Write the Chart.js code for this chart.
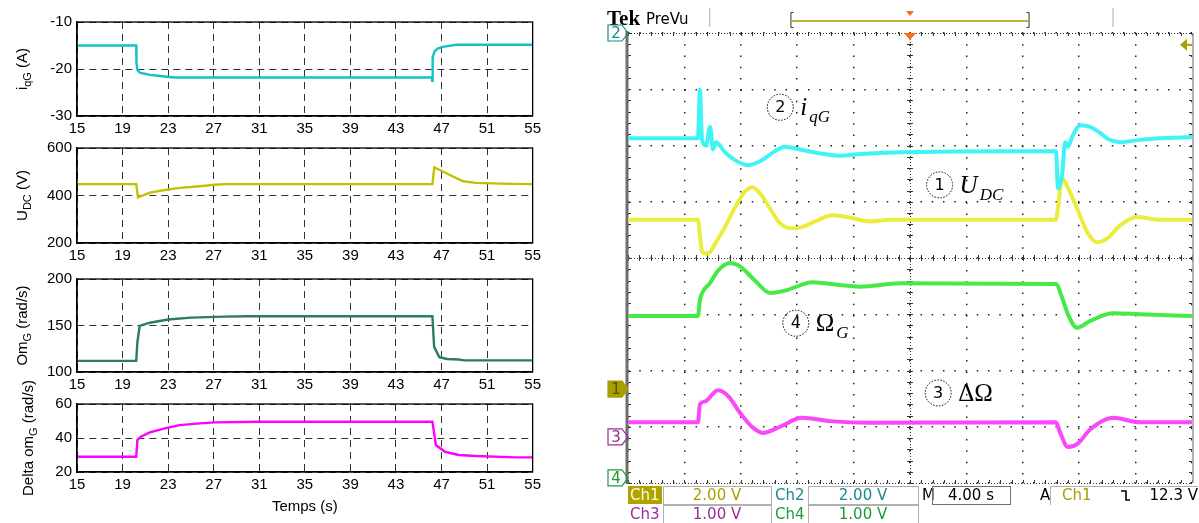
<!DOCTYPE html>
<html>
<head>
<meta charset="utf-8">
<script src="https://cdn.jsdelivr.net/npm/chart.js@4.4.0/dist/chart.umd.min.js"></script>
<style>
  html, body { margin: 0; padding: 0; background: #fff; }
  body { width: 1199px; height: 523px; position: relative; overflow: hidden; }
  canvas { position: absolute; }
</style>
</head>
<body>
<canvas id="simIqg" width="545" height="138" style="left:0;top:8px"></canvas>
<canvas id="simUdc" width="545" height="139" style="left:0;top:134px"></canvas>
<canvas id="simOmg" width="545" height="137" style="left:0;top:265px"></canvas>
<canvas id="simDom" width="545" height="166" style="left:0;top:354px"></canvas>
<canvas id="scope" width="599" height="523" style="left:600px;top:0"></canvas>
<script>
// ---- Simulation (gauche) : temps en s ----
const timeTicks = [15, 19, 23, 27, 31, 35, 39, 43, 47, 51, 55];

const iqgTime   = [15, 20.2, 20.22, 20.3, 20.5, 21.4, 22.3, 23.6, 46.15, 46.18, 46.22, 46.4, 46.7, 47.1, 48.3, 55];
const iqgValues = [-15, -15, -18.7, -20.1, -20.8, -21.25, -21.5, -21.8, -21.8, -22.5, -17.5, -16.2, -15.6, -15.3, -14.85, -14.85];
const iqgTicks  = [-30, -20, -10];

const udcTime   = [15, 20.2, 20.35, 21.4, 22.7, 24, 25.8, 27.1, 28, 46.2, 46.37, 47.1, 48.0, 48.9, 50, 51.5, 53.1, 55];
const udcValues = [448, 448, 392, 412, 423, 432, 439, 445, 448, 448, 519, 501, 480, 460, 453, 451, 449, 448];
const udcTicks  = [200, 400, 600];

const omgTime   = [15, 20.2, 20.3, 20.5, 21.4, 23, 25, 28, 30, 46.2, 46.35, 46.8, 47.5, 48.5, 49, 55];
const omgValues = [112, 112, 132, 149.5, 153, 156.5, 158.5, 159.5, 160, 160, 127, 116, 114, 113.5, 112.5, 112.5];
const omgTicks  = [100, 150, 200];

const domTime   = [15, 20.2, 20.3, 20.6, 21.4, 22.7, 24, 25.8, 27.1, 31, 46.2, 46.5, 47.3, 48.5, 50, 53.5, 55];
const domValues = [29, 29, 38.8, 40.8, 43.3, 45.7, 47.6, 48.6, 49.2, 49.6, 49.6, 35.9, 31.9, 30, 29.4, 28.6, 28.6];
const domTicks  = [20, 40, 60];

// ---- Oscilloscope (droite) : temps en s depuis le bord gauche, niveaux en divisions ----
const ch1Time = [0, 4.96, 5.1, 5.25, 5.53, 5.82, 6.17, 6.88, 7.59, 8.3, 8.8, 9.36, 10.07, 10.78, 11.49, 12.2, 13.26, 14.5, 15.7, 17.2, 18.6, 30.35, 30.5, 30.78, 31.2, 31.9, 32.6, 33.26, 34.0, 34.9, 36.1, 37.7, 40];
const ch1Div  = [0.68, 0.68, 0.4, 0.12, 0.08, 0.1, 0.25, 0.55, 0.9, 1.18, 1.26, 1.15, 0.88, 0.62, 0.53, 0.54, 0.65, 0.76, 0.72, 0.65, 0.68, 0.68, 0.9, 1.42, 1.25, 0.85, 0.45, 0.28, 0.35, 0.58, 0.73, 0.68, 0.68];

const ch2Time = [0, 4.96, 5.1, 5.25, 5.53, 5.82, 6.03, 6.24, 6.88, 7.59, 8.51, 9.36, 10.43, 11.13, 12.2, 13.6, 15.0, 16.5, 19.3, 26.4, 30.35, 30.5, 30.8, 31.0, 31.2, 31.5, 32.06, 32.77, 33.5, 34.0, 34.9, 36.3, 37.7, 40];
const ch2Div  = [2.13, 2.13, 2.99, 2.1, 2.0, 2.33, 1.93, 2.06, 1.88, 1.74, 1.65, 1.72, 1.9, 1.98, 1.93, 1.86, 1.82, 1.85, 1.88, 1.9, 1.9, 1.24, 1.5, 2.06, 1.98, 2.15, 2.36, 2.33, 2.22, 2.12, 2.06, 2.1, 2.13, 2.15];

const ch3Time = [0, 4.96, 5.1, 5.46, 6.38, 7.09, 7.94, 8.79, 9.57, 10.78, 12.34, 14.3, 17.2, 30.35, 30.64, 31.2, 31.9, 32.77, 34.4, 36.3, 40];
const ch3Div  = [-2.92, -2.92, -2.6, -2.55, -2.35, -2.45, -2.75, -3.0, -3.11, -3.0, -2.84, -2.9, -2.93, -2.92, -3.1, -3.36, -3.3, -3.05, -2.84, -2.92, -2.92];

const ch4Time = [0, 4.96, 5.1, 5.3, 5.8, 6.4, 7.23, 7.94, 9.0, 10.07, 11.13, 13.1, 15.0, 16.45, 19.3, 30.35, 30.78, 31.2, 31.84, 32.77, 34.4, 36.3, 40];
const ch4Div  = [-1.03, -1.03, -0.75, -0.6, -0.45, -0.22, -0.09, -0.15, -0.4, -0.62, -0.58, -0.43, -0.48, -0.51, -0.45, -0.46, -0.7, -1.0, -1.24, -1.12, -0.98, -1.0, -1.03];

const channelGround = [-2.33, 4.0, -3.18, -3.91];       // Ch1..Ch4
const channelVolts  = ['2.00 V', '2.00 V', '1.00 V', '1.00 V'];
const timebase      = '4.00 s';
const triggerLevel  = '12.3 V';
const triggerMark   = 3.79;

const toXY = (ts, vs) => ts.map((t, i) => ({ x: t, y: vs[i] }));

// Label d'axe Y avec indice (style MATLAB)
function drawSubLabel(ctx, parts, xBase, yCenter) {
  const big = '15px "Liberation Sans", Arial, sans-serif';
  const small = '11px "Liberation Sans", Arial, sans-serif';
  let total = 0;
  parts.forEach(p => { ctx.font = p.sub ? small : big; total += ctx.measureText(p.t).width; });
  ctx.save();
  ctx.translate(xBase, yCenter);
  ctx.rotate(-Math.PI / 2);
  ctx.fillStyle = '#000';
  ctx.textBaseline = 'alphabetic';
  let cx = -total / 2;
  parts.forEach(p => {
    ctx.font = p.sub ? small : big;
    ctx.fillText(p.t, cx, p.sub ? 4 : 0);
    cx += ctx.measureText(p.t).width;
  });
  ctx.restore();
}

function makeSimChart(id, ts, vs, color, yTicks, yParts, labelX, padTop, xHeight, withTitle) {
  const frame = {
    id: 'frame',
    afterDraw(chart) {
      const { ctx, chartArea: a } = chart;
      ctx.save();
      ctx.strokeStyle = '#000';
      ctx.lineWidth = 1.3;
      ctx.strokeRect(a.left, a.top, a.right - a.left, a.bottom - a.top);
      ctx.restore();
      drawSubLabel(ctx, yParts, labelX, (a.top + a.bottom) / 2);
    }
  };
  return new Chart(document.getElementById(id), {
    type: 'line',
    data: {
      datasets: [{
        data: toXY(ts, vs),
        borderColor: color,
        borderWidth: 2.4,
        pointRadius: 0,
        tension: 0
      }]
    },
    options: {
      responsive: false,
      animation: false,
      layout: { padding: { top: padTop, right: 12, left: 0, bottom: 0 } },
      plugins: { legend: { display: false }, tooltip: { enabled: false } },
      scales: {
        x: {
          type: 'linear', min: 15, max: 55,
          afterBuildTicks: s => { s.ticks = timeTicks.map(v => ({ value: v })); },
          afterFit: s => { s.height = xHeight; },
          ticks: { color: '#000', padding: 4, maxRotation: 0, autoSkip: false,
                   font: { family: '"Liberation Sans", Arial, sans-serif', size: 15 } },
          grid: { color: '#333', lineWidth: 1, drawTicks: false },
          border: { color: '#000', width: 1.3, dash: [7, 5] },
          title: { display: withTitle, text: 'Temps (s)', color: '#000',
                   font: { family: '"Liberation Sans", Arial, sans-serif', size: 15 } }
        },
        y: {
          min: yTicks[0], max: yTicks[yTicks.length - 1],
          afterBuildTicks: s => { s.ticks = yTicks.map(v => ({ value: v })); },
          afterFit: s => { s.width = 77; },
          ticks: { color: '#000', padding: 5,
                   font: { family: '"Liberation Sans", Arial, sans-serif', size: 15 } },
          grid: { color: '#333', lineWidth: 1, drawTicks: false },
          border: { color: '#000', width: 1.3, dash: [7, 5] }
        }
      }
    },
    plugins: [frame]
  });
}

makeSimChart('simIqg', iqgTime, iqgValues, '#12c2c6', iqgTicks,
  [{ t: 'i' }, { t: 'qG', sub: true }, { t: ' (A)' }], 27, 12, 30, false);
makeSimChart('simUdc', udcTime, udcValues, '#c2c000', udcTicks,
  [{ t: 'U' }, { t: 'DC', sub: true }, { t: ' (V)' }], 27, 12, 30, false);
makeSimChart('simOmg', omgTime, omgValues, '#2b7d5c', omgTicks,
  [{ t: 'Om' }, { t: 'G', sub: true }, { t: ' (rad/s)' }], 27, 12, 30, false);
makeSimChart('simDom', domTime, domValues, '#ff00ff', domTicks,
  [{ t: 'Delta om' }, { t: 'G', sub: true }, { t: ' (rad/s)' }], 33, 50, 48, true);

// ---- Décor de l'oscilloscope ----
const SANS = '"DejaVu Sans", sans-serif';
const SERIF = '"Liberation Serif", "DejaVu Serif", serif';

function chanMarker(ctx, xr, yc, label, color, filled) {
  ctx.save();
  ctx.beginPath();
  ctx.moveTo(xr - 20, yc - 8);
  ctx.lineTo(xr - 6, yc - 8);
  ctx.lineTo(xr, yc);
  ctx.lineTo(xr - 6, yc + 8);
  ctx.lineTo(xr - 20, yc + 8);
  ctx.closePath();
  if (filled) { ctx.fillStyle = color; ctx.fill(); }
  ctx.strokeStyle = color; ctx.lineWidth = 1.2; ctx.stroke();
  ctx.fillStyle = filled ? '#5a5200' : color;
  ctx.font = '15px ' + SANS;
  ctx.textAlign = 'center'; ctx.textBaseline = 'middle';
  ctx.fillText(label, xr - 12, yc + 1);
  ctx.restore();
}

function note(ctx, px, py, num, main, sub) {
  ctx.save();
  ctx.setLineDash([1.5, 1.5]);
  ctx.strokeStyle = '#000'; ctx.lineWidth = 1;
  ctx.beginPath(); ctx.arc(px, py, 13, 0, Math.PI * 2); ctx.stroke();
  ctx.setLineDash([]);
  ctx.fillStyle = '#000';
  ctx.font = '16px ' + SANS; ctx.textAlign = 'center'; ctx.textBaseline = 'middle';
  ctx.fillText(num, px, py + 1);
  ctx.textAlign = 'left'; ctx.textBaseline = 'alphabetic';
  let x = px + 20;
  main.forEach(m => {
    ctx.font = (m.it ? 'italic ' : '') + '25px ' + SERIF;
    ctx.fillText(m.t, x, py + 8);
    x += ctx.measureText(m.t).width + 2;
  });
  if (sub) {
    ctx.font = 'italic 17px ' + SERIF;
    ctx.fillText(sub, x, py + 15);
  }
  ctx.restore();
}

function readout(ctx, x, y, w, h, text, color, opts = {}) {
  ctx.save();
  if (opts.fill) { ctx.fillStyle = opts.fill; ctx.fillRect(x, y, w, h); }
  if (opts.stroke) { ctx.strokeStyle = opts.stroke; ctx.lineWidth = 1; ctx.strokeRect(x + 0.5, y + 0.5, w, h); }
  ctx.fillStyle = color;
  ctx.font = '15px ' + SANS;
  ctx.textBaseline = 'middle';
  ctx.textAlign = opts.align || 'center';
  const tx = opts.align === 'left' ? x + 2 : opts.align === 'right' ? x + w - 2 : x + w / 2;
  ctx.fillText(text, tx, y + h / 2 + 1);
  ctx.restore();
}

const scopeDecor = {
  id: 'scopeDecor',
  beforeDatasetsDraw(chart) {
    const { ctx, chartArea: a, scales: { x, y } } = chart;
    const xc = x.getPixelForValue(20), yc = y.getPixelForValue(0);
    ctx.save();
    ctx.strokeStyle = '#333'; ctx.lineWidth = 1;
    // lignes centrales (pointillé serré) et graduations secondaires
    ctx.setLineDash([1, 2]);
    ctx.beginPath();
    ctx.moveTo(Math.round(xc) + 0.5, a.top); ctx.lineTo(Math.round(xc) + 0.5, a.bottom);
    ctx.moveTo(a.left, Math.round(yc) + 0.5); ctx.lineTo(a.right, Math.round(yc) + 0.5);
    ctx.moveTo(a.left, Math.round(a.top) + 0.5); ctx.lineTo(a.right, Math.round(a.top) + 0.5);
    ctx.moveTo(a.left, Math.round(a.bottom) + 0.5); ctx.lineTo(a.right, Math.round(a.bottom) + 0.5);
    ctx.stroke();
    ctx.setLineDash([]);
    ctx.beginPath();
    for (let k = 0; k <= 50; k++) {
      const px = Math.round(x.getPixelForValue(k * 0.8)) + 0.5;
      ctx.moveTo(px, yc - 3); ctx.lineTo(px, yc + 3);
      ctx.moveTo(px, a.top); ctx.lineTo(px, a.top + 3);
      ctx.moveTo(px, a.bottom); ctx.lineTo(px, a.bottom - 3);
    }
    for (let k = 0; k <= 40; k++) {
      const py = Math.round(y.getPixelForValue(-4 + k * 0.2)) + 0.5;
      ctx.moveTo(xc - 3, py); ctx.lineTo(xc + 3, py);
      ctx.moveTo(a.left, py); ctx.lineTo(a.left + 3, py);
      ctx.moveTo(a.right, py); ctx.lineTo(a.right - 3, py);
    }
    ctx.stroke();
    // cadre
    ctx.strokeStyle = '#6f6f6f'; ctx.lineWidth = 3;
    ctx.beginPath(); ctx.moveTo(a.left - 1, a.top - 2); ctx.lineTo(a.left - 1, a.bottom + 1); ctx.stroke();
    ctx.strokeStyle = '#9a9a9a'; ctx.lineWidth = 1.5;
    ctx.beginPath(); ctx.moveTo(a.right + 1, a.top); ctx.lineTo(a.right + 1, a.bottom); ctx.stroke();
    ctx.restore();
  },
  afterDraw(chart) {
    const { ctx, chartArea: a, scales: { x, y } } = chart;
    const W = a.right - a.left;
    ctx.save();
    // barre du haut
    ctx.fillStyle = '#000';
    ctx.font = 'bold 21px ' + SERIF;
    ctx.textBaseline = 'alphabetic';
    ctx.fillText('Tek', 7, 25);
    ctx.font = '15px ' + SANS;
    ctx.fillText('PreVu', 46, 24);
    ctx.strokeStyle = '#aaa'; ctx.lineWidth = 1;
    ctx.beginPath();
    ctx.moveTo(a.left + 0.145 * W, 8); ctx.lineTo(a.left + 0.145 * W, 27);
    ctx.moveTo(a.left + 0.86 * W, 8); ctx.lineTo(a.left + 0.86 * W, 27);
    ctx.stroke();
    const bl = a.left + 0.288 * W, br = a.left + 0.712 * W;
    ctx.strokeStyle = '#333'; ctx.lineWidth = 1;
    ctx.beginPath();
    ctx.moveTo(bl + 3, 12.5); ctx.lineTo(bl + 0.5, 12.5); ctx.lineTo(bl + 0.5, 27.5); ctx.lineTo(bl + 3, 27.5);
    ctx.moveTo(br - 3, 12.5); ctx.lineTo(br - 0.5, 12.5); ctx.lineTo(br - 0.5, 27.5); ctx.lineTo(br - 3, 27.5);
    ctx.stroke();
    ctx.strokeStyle = '#a49c00'; ctx.lineWidth = 1.5;
    ctx.beginPath(); ctx.moveTo(bl + 1, 21); ctx.lineTo(br - 1, 21); ctx.stroke();
    const tx = x.getPixelForValue(20);
    ctx.fillStyle = '#ff6a10';
    ctx.beginPath(); ctx.moveTo(tx - 4, 11); ctx.lineTo(tx + 4, 11); ctx.lineTo(tx, 16); ctx.closePath(); ctx.fill();
    ctx.beginPath(); ctx.moveTo(tx - 6, a.top); ctx.lineTo(tx + 6, a.top); ctx.lineTo(tx, a.top + 7); ctx.closePath(); ctx.fill();

    // repères des voies
    chanMarker(ctx, a.left, y.getPixelForValue(channelGround[1]), '2', '#178a8a', false);
    chanMarker(ctx, a.left, y.getPixelForValue(channelGround[0]), '1', '#a89e00', true);
    chanMarker(ctx, a.left, y.getPixelForValue(channelGround[2]), '3', '#9a2c9a', false);
    chanMarker(ctx, a.left, y.getPixelForValue(channelGround[3]), '4', '#1f9a3a', false);
    // niveau de déclenchement
    const ty = y.getPixelForValue(triggerMark);
    ctx.fillStyle = '#a89e00'; ctx.strokeStyle = '#a89e00'; ctx.lineWidth = 2;
    ctx.beginPath(); ctx.moveTo(a.right - 12, ty); ctx.lineTo(a.right - 5, ty - 6); ctx.lineTo(a.right - 5, ty + 6); ctx.closePath(); ctx.fill();
    ctx.beginPath(); ctx.moveTo(a.right - 5, ty); ctx.lineTo(a.right, ty); ctx.stroke();

    // annotations
    note(ctx, x.getPixelForValue(10.8), y.getPixelForValue(2.68), '2', [{ t: 'i', it: true }], 'qG');
    note(ctx, x.getPixelForValue(22.1), y.getPixelForValue(1.30), '1', [{ t: 'U', it: true }], 'DC');
    note(ctx, x.getPixelForValue(11.9), y.getPixelForValue(-1.16), '4', [{ t: 'Ω' }], 'G');
    note(ctx, x.getPixelForValue(22.0), y.getPixelForValue(-2.40), '3', [{ t: 'ΔΩ' }], null);

    // lecture des calibres
    const r1 = a.bottom + 3, r2 = a.bottom + 22, h = 18;
    readout(ctx, a.left, r1, 34, h, 'Ch1', '#fffbe0', { fill: '#aea400', align: 'left' });
    readout(ctx, a.left + 35, r1, 108, h, channelVolts[0], '#a89e00', { stroke: '#b0b0b0' });
    readout(ctx, a.left + 145, r1, 34, h, 'Ch2', '#178a8a', { align: 'left' });
    readout(ctx, a.left + 180, r1, 110, h, channelVolts[1], '#178a8a', { stroke: '#b0b0b0' });
    readout(ctx, a.left + 292, r1, 12, h, 'M', '#000', { align: 'left' });
    readout(ctx, a.left + 304, r1, 78, h, timebase, '#000', { stroke: '#707070' });
    readout(ctx, a.left + 410, r1, 14, h, 'A', '#000', { align: 'left' });
    ctx.strokeStyle = '#b0b0b0'; ctx.lineWidth = 1;
    ctx.beginPath(); ctx.moveTo(a.left + 422.5, r1 + h + 1); ctx.lineTo(a.left + 422.5, r1 + 0.5); ctx.lineTo(a.right + 6, r1 + 0.5); ctx.stroke();
    readout(ctx, a.left + 432, r1, 40, h, 'Ch1', '#a89e00', { align: 'left' });
    // symbole de front descendant
    ctx.strokeStyle = '#000'; ctx.lineWidth = 1.6;
    ctx.beginPath();
    ctx.moveTo(a.left + 493, r1 + 5); ctx.lineTo(a.left + 498, r1 + 5); ctx.lineTo(a.left + 498, r1 + 14); ctx.lineTo(a.left + 502, r1 + 14);
    ctx.stroke();
    readout(ctx, a.left + 505, r1, 67, h, triggerLevel, '#000', { align: 'right' });
    readout(ctx, a.left, r2, 34, h, 'Ch3', '#9a2c9a', { align: 'left' });
    readout(ctx, a.left + 35, r2, 108, h, channelVolts[2], '#9a2c9a', { stroke: '#b0b0b0' });
    readout(ctx, a.left + 145, r2, 34, h, 'Ch4', '#1f9a3a', { align: 'left' });
    readout(ctx, a.left + 180, r2, 110, h, channelVolts[3], '#1f9a3a', { stroke: '#b0b0b0' });
    ctx.restore();
  }
};

const traceStyle = { pointRadius: 0, borderWidth: 4, cubicInterpolationMode: 'monotone' };

new Chart(document.getElementById('scope'), {
  type: 'line',
  data: {
    datasets: [
      { label: 'Ch2', data: toXY(ch2Time, ch2Div), borderColor: '#3ff3f6', ...traceStyle },
      { label: 'Ch1', data: toXY(ch1Time, ch1Div), borderColor: '#ecec3c', ...traceStyle },
      { label: 'Ch4', data: toXY(ch4Time, ch4Div), borderColor: '#46ea46', ...traceStyle },
      { label: 'Ch3', data: toXY(ch3Time, ch3Div), borderColor: '#fb46fb', ...traceStyle }
    ]
  },
  options: {
    responsive: false,
    animation: false,
    layout: { padding: { left: 28, top: 33, right: 7, bottom: 40 } },
    plugins: { legend: { display: false }, tooltip: { enabled: false } },
    scales: {
      x: {
        type: 'linear', min: 0, max: 40,
        ticks: { display: false, stepSize: 4 },
        afterFit: s => { s.height = 0; },
        grid: { color: '#222', lineWidth: 1.5, drawTicks: false },
        border: { display: false, dash: [1.5, 9.78] }
      },
      y: {
        min: -4, max: 4,
        ticks: { display: false, stepSize: 1 },
        afterFit: s => { s.width = 0; },
        grid: { color: '#222', lineWidth: 1.5, drawTicks: false },
        border: { display: false, dash: [1.5, 9.75] }
      }
    }
  },
  plugins: [scopeDecor]
});
</script>
</body>
</html>
